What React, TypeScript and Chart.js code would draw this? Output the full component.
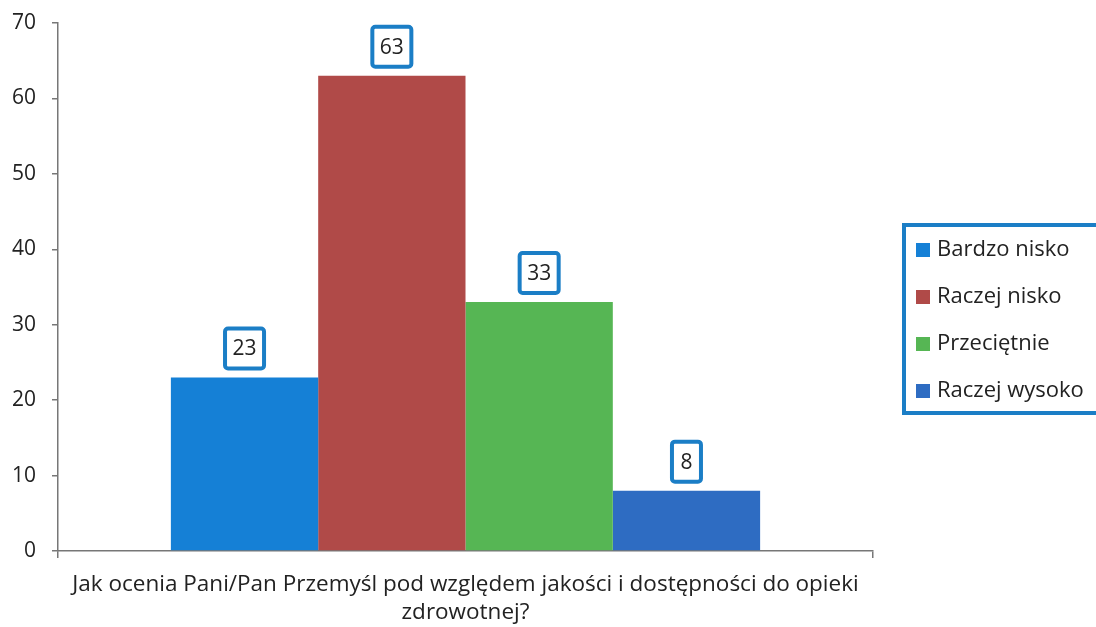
import React, { useEffect, useRef } from "react";
import { Chart, registerables } from "chart.js";

Chart.register(...registerables);

const categories = [["Jak ocenia Pani/Pan Przemyśl pod względem jakości i dostępności do opieki", "zdrowotnej?"]];
const seriesNames = ["Bardzo nisko", "Raczej nisko", "Przeciętnie", "Raczej wysoko"];
const seriesValues = [23, 63, 33, 8];
const seriesColors = ["#1580d6", "#b04a48", "#56b654", "#2e6cc2"];
const yMin = 0;
const yMax = 70;
const yStep = 10;

const FONT = "'Open Sans', Lato, sans-serif";
const BOX_BLUE = "#1b7ec6";

const valueLabelPlugin = {
  id: "valueLabels",
  afterDatasetsDraw(chart: any) {
    const ctx = chart.ctx;
    ctx.save();
    ctx.font = `21px ${FONT}`;
    chart.data.datasets.forEach((ds: any, i: number) => {
      const meta = chart.getDatasetMeta(i);
      meta.data.forEach((bar: any, j: number) => {
        const text = String(ds.data[j]);
        const tw = ctx.measureText(text).width;
        const w = Math.max(tw + 15, 29);
        const h = 40;
        const cx = bar.x;
        const bottom = bar.y - 9;
        const x0 = cx - w / 2;
        const y0 = bottom - h;
        ctx.fillStyle = "#ffffff";
        ctx.strokeStyle = BOX_BLUE;
        ctx.lineWidth = 4;
        ctx.beginPath();
        if ((ctx as any).roundRect) (ctx as any).roundRect(x0, y0, w, h, 3);
        else ctx.rect(x0, y0, w, h);
        ctx.fill();
        ctx.stroke();
        ctx.fillStyle = "#222222";
        ctx.textAlign = "center";
        ctx.textBaseline = "middle";
        ctx.fillText(text, cx, y0 + h / 2 + 1);
      });
    });
    ctx.restore();
  },
};

const boxedLegendPlugin = {
  id: "boxedLegend",
  afterDraw(chart: any) {
    const ctx = chart.ctx;
    const left = chart.chartArea.right + 31;
    const top = 225;
    const w = chart.width - left + 4;
    const h = 188;
    ctx.save();
    ctx.strokeStyle = BOX_BLUE;
    ctx.lineWidth = 4;
    ctx.fillStyle = "#ffffff";
    ctx.beginPath();
    ctx.rect(left, top, w, h);
    ctx.fill();
    ctx.stroke();
    ctx.font = `22px ${FONT}`;
    ctx.textAlign = "left";
    ctx.textBaseline = "middle";
    chart.data.datasets.forEach((ds: any, i: number) => {
      const cy = top + 25 + i * 47;
      ctx.fillStyle = ds.backgroundColor;
      ctx.fillRect(left + 12, cy - 7, 14, 14);
      ctx.fillStyle = "#222222";
      ctx.fillText(ds.label, left + 33, cy);
    });
    ctx.restore();
  },
};

export default function App() {
  const ref = useRef<HTMLCanvasElement | null>(null);
  useEffect(() => {
    if (!ref.current) return;
    const chart = new Chart(ref.current, {
      type: "bar",
      data: {
        labels: categories,
        datasets: seriesNames.map((name, i) => ({
          label: name,
          data: [seriesValues[i]],
          backgroundColor: seriesColors[i],
          borderWidth: 0,
        })),
      },
      options: {
        responsive: false,
        animation: false,
        devicePixelRatio: 1,
        categoryPercentage: 0.723,
        barPercentage: 1,
        layout: { padding: { top: 23, right: 223, bottom: 0, left: 0 } },
        plugins: {
          legend: { display: false },
          tooltip: { enabled: false },
          title: { display: false },
        },
        scales: {
          x: {
            offset: true,
            afterFit: (scale: any) => {
              scale.height = 76;
              scale.paddingLeft = 0;
              scale.paddingRight = 0;
            },
            grid: {
              display: true,
              offset: true,
              drawOnChartArea: false,
              drawTicks: true,
              tickLength: 7,
              color: "#777777",
              lineWidth: 1.5,
            },
            border: { display: true, color: "#777777", width: 1.5 },
            ticks: {
              font: { family: FONT, size: 22.5, lineHeight: 1.245 },
              color: "#222222",
              padding: 13,
              maxRotation: 0,
              autoSkip: false,
            },
          },
          y: {
            min: yMin,
            max: yMax,
            afterFit: (scale: any) => {
              scale.width = 58;
              scale.paddingTop = 0;
              scale.paddingBottom = 0;
            },
            grid: {
              display: true,
              drawOnChartArea: false,
              drawTicks: true,
              tickLength: 6,
              color: "#777777",
              lineWidth: 1.5,
            },
            border: { display: true, color: "#777777", width: 1.5 },
            ticks: {
              stepSize: yStep,
              font: { family: FONT, size: 21 },
              color: "#222222",
              padding: 16,
            },
          },
        },
      },
      plugins: [valueLabelPlugin, boxedLegendPlugin],
    });
    return () => chart.destroy();
  }, []);
  return (
    <div style={{ position: "absolute", left: 0, top: 0, width: 1096, height: 627, background: "#ffffff" }}>
      <canvas ref={ref} width={1096} height={627} style={{ display: "block" }} />
    </div>
  );
}
